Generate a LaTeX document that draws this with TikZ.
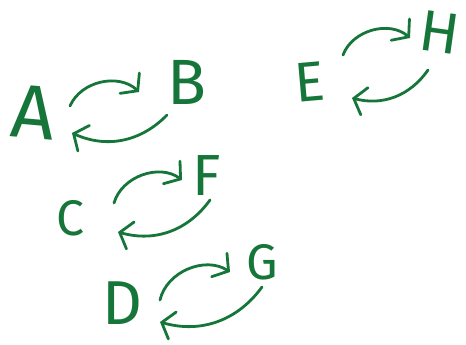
\documentclass[tikz,border=0pt]{standalone}
\usepackage{fontspec}
\setmainfont{Fira Sans}
\usepackage{tikz}
\usetikzlibrary{arrows.meta}
\definecolor{inkgreen}{RGB}{22,118,58}

\begin{document}
\begin{tikzpicture}[
  x=1pt, y=-1pt,
  letter/.style={text=inkgreen, inner sep=0pt, font=\fontsize{#1}{#1}\selectfont},
  letter/.default=60,
  fwd/.style={draw=inkgreen, line width=2.8pt, line cap=round,
    -{Straight Barb[length=11pt, width=28pt, line cap=round]}}
]
\useasboundingbox (0,0) rectangle (466,345);

% letters
\node[letter=76, rotate=-5] (A) at (33,112) {A};
\node[letter=64] (B) at (187,82) {B};
\node[letter=50] (C) at (70,218) {C};
\node[letter=62] (D) at (122,303) {D};
\node[letter=56, rotate=5] (E) at (310,82) {E};
\node[letter=58] (F) at (207,176) {F};
\node[letter=50] (G) at (262,262) {G};
\node[letter=58, rotate=-8] (H) at (440,32) {H};

% A <-> B
\draw[fwd] ([shift={(37,-6)}]A.center) to[bend left=55] ([shift={(-48,10)}]B.center);
\draw[fwd] ([shift={(-20,33)}]B.center) to[bend left=35] ([shift={(39,21)}]A.center);

% E <-> H
\draw[fwd] ([shift={(33,-27)}]E.center) to[bend left=55] ([shift={(-30,6)}]H.center);
\draw[fwd] ([shift={(-12,38)}]H.center) to[bend left=35] ([shift={(42,16)}]E.center);

% C <-> F
\draw[fwd] ([shift={(44,-15)}]C.center) to[bend left=55] ([shift={(-25,4)}]F.center);
\draw[fwd] ([shift={(3,24)}]F.center) to[bend left=35] ([shift={(48,14)}]C.center);

% D <-> G
\draw[fwd] ([shift={(38,-3)}]D.center) to[bend left=55] ([shift={(-32,10)}]G.center);
\draw[fwd] ([shift={(0,25)}]G.center) to[bend left=35] ([shift={(38,19)}]D.center);
\end{tikzpicture}
\end{document}
